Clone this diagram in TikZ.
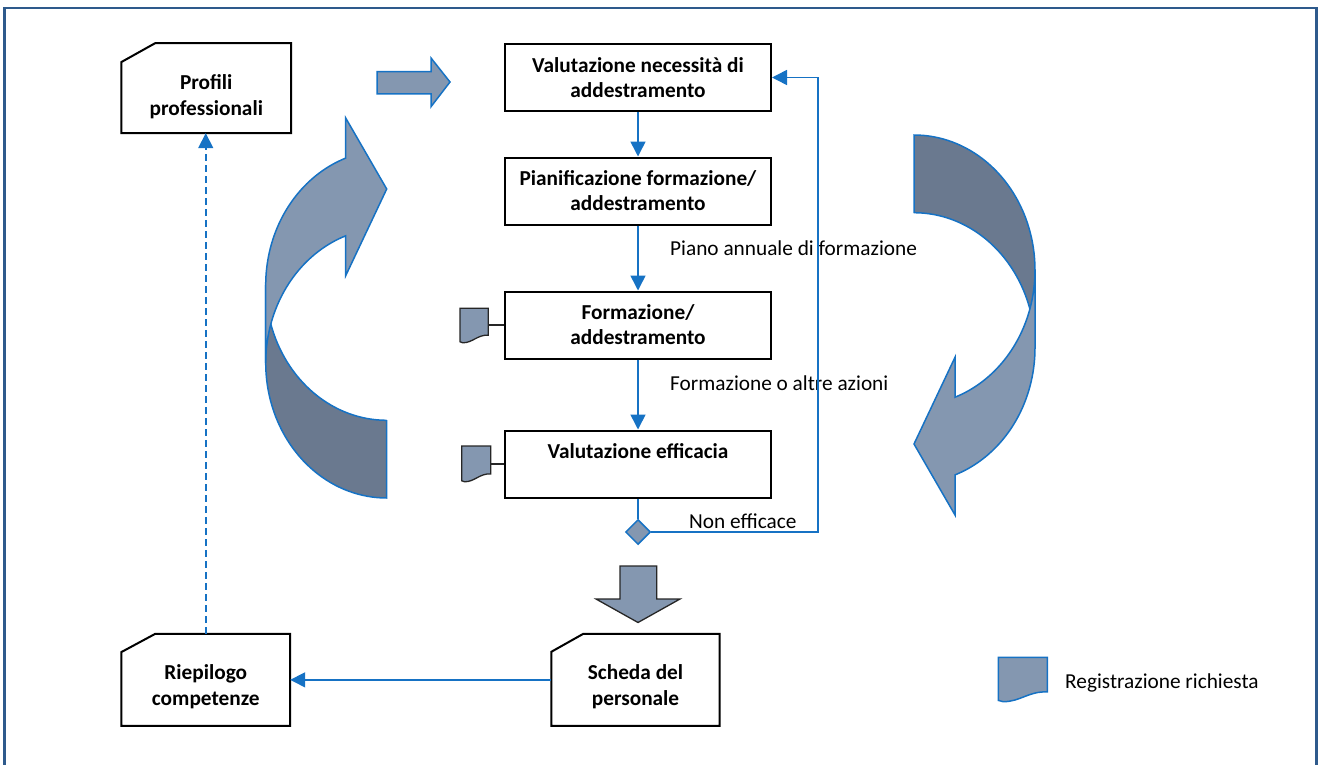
\documentclass[tikz,border=0pt]{standalone}
\usepackage{fontspec}
\setmainfont{Carlito}
\usetikzlibrary{arrows.meta,calc,shapes.geometric}
\definecolor{flowblue}{RGB}{22,114,196}
\definecolor{slatelight}{RGB}{132,151,176}
\definecolor{slatedark}{RGB}{106,121,143}
\definecolor{framecol}{RGB}{46,90,140}
% outline of a "record" document symbol in a unit square (y grows downwards)
\newcommand{\docoutline}{(0,0) -- (1,0) -- (1,0.78) .. controls (0.62,0.76) and (0.45,1.0) .. (0.1,1.0) .. controls (0.04,1.0) .. (0,0.97) -- cycle}
\begin{document}
\begin{tikzpicture}[x=1pt,y=-1pt,
  every node/.style={font=\fontsize{21.3}{25}\selectfont},
  procbox/.style={draw=black, line width=2pt, fill=white, minimum width=266pt,
    minimum height=67pt, align=center, inner sep=0pt,
    font=\fontsize{21.3}{25}\selectfont\bfseries},
  snipframe/.style={inner sep=0pt},
  sniptext/.style={align=center, inner sep=0pt, font=\fontsize{21.3}{26}\selectfont\bfseries},
  snipline/.style={draw=black, line width=2pt, fill=white, line join=miter},
  flow/.style={draw=flowblue, line width=1.6pt, -{Triangle[length=15pt,width=15pt]}},
  plainflow/.style={draw=flowblue, line width=1.6pt},
  docicon/.style={draw=black!85, line width=1.3pt, fill=slatelight},
  legendicon/.style={draw=flowblue, line width=1.5pt, fill=slatelight},
  blockarrow/.style={fill=slatelight, draw=flowblue, line width=1.5pt, line join=miter},
  downarrow/.style={fill=slatelight, draw=black!85, line width=1.3pt, line join=miter},
  cyclelight/.style={fill=slatelight, draw=flowblue, line width=1.5pt, line join=miter},
  cycledark/.style={fill=slatedark, draw=flowblue, line width=1.5pt, line join=miter},
  lbl/.style={anchor=west, inner sep=0pt},
]
\useasboundingbox (0,0) rectangle (1319,765);

% outer frame, open at the bottom
\begin{scope}
  \clip (0,0) rectangle (1319,765);
  \draw[framecol, line width=2.7pt] (4.7,8) rectangle (1316.8,800);
\end{scope}

% curved cycle arrow (left); the right one is the same shape turned by 180 degrees
\newcommand{\cyclearrow}[1]{%
  \begin{scope}[#1]
    \draw[cycledark] (386.7,420)
      -- plot[domain=90:180, samples=40] ({386.7+121*cos(\x)},{285.2+135.1*sin(\x)})
      -- plot[domain=180:90, samples=40] ({386.7+121*cos(\x)},{362.9+135.1*sin(\x)})
      -- cycle;
    \draw[cyclelight] (265.7,285.2)
      -- plot[domain=180:250.2, samples=40] ({386.7+121*cos(\x)},{285.2+135.1*sin(\x)})
      -- (345.7,118) -- (386.7,189) -- (345.7,275.7)
      -- plot[domain=250.2:180, samples=40] ({386.7+121*cos(\x)},{362.9+135.1*sin(\x)})
      -- cycle;
  \end{scope}}
\cyclearrow{}
\cyclearrow{rotate around={180:(650.35,316.5)}}

% block arrows
\draw[blockarrow] (377,71.7) -- (431,71.7) -- (431,58) -- (450,82) -- (431,106.7)
  -- (431,94) -- (377,94) -- cycle;
\draw[downarrow] (620,566) -- (656.7,566) -- (656.7,599) -- (680,599) -- (638,622.5)
  -- (596,599) -- (620,599) -- cycle;

% process steps
\node[procbox] (need)  at (638,77.5) {Valutazione necessità di\\addestramento};
\node[procbox] (plan)  at (638,191)  {Pianificazione formazione/\\addestramento};
\node[procbox] (train) at (638,325)  {Formazione/\\addestramento};
\node[procbox] (eval)  at (638,464)  {Valutazione efficacia\\\mbox{}};
\node[diamond, draw=flowblue, fill=slatelight, line width=1.5pt, minimum size=25pt,
  inner sep=0pt] (dec) at (638,532) {};

% documents with a snipped corner
\node[snipframe, minimum width=169.5pt, minimum height=89.7pt] (prof) at (206.25,88.15) {};
\node[snipframe, minimum width=168.5pt, minimum height=91.7pt] (riep) at (205.75,679.85) {};
\node[snipframe, minimum width=168pt, minimum height=91.7pt] (sched) at (635.5,679.85) {};
\foreach \n/\cx/\cy in {prof/34/19, riep/34/18.3, sched/32/18}{
  \draw[snipline] ($(\n.north west)+(0,\cy)$) -- ($(\n.north west)+(\cx,0)$)
    -- (\n.north east) -- (\n.south east) -- (\n.south west) -- cycle;
}
\node[sniptext] (proft)  at ($(prof.center)+(0,8.5)$)  {Profili\\professionali};
\node[sniptext] (riept)  at ($(riep.center)+(0,7)$)   {Riepilogo\\competenze};
\node[sniptext] (schedt) at ($(sched.center)+(0,7)$)  {Scheda del\\personale};

% record symbols attached to the steps
\draw[docicon, shift={(460,308.3)}, xscale=28.3, yscale=34.5] \docoutline;
\draw[docicon, shift={(461.7,446)}, xscale=29, yscale=35.8] \docoutline;
\coordinate (rec1) at (488.3,325);
\coordinate (rec2) at (490.7,464);
\draw[black!85, line width=1.3pt] (rec1) -- (train.west);
\draw[black!85, line width=1.3pt] (rec2) -- (eval.west);

% flow labels
\node[lbl] (pianolbl) at (670,248)   {Piano annuale di formazione};
\node[lbl] (azionilbl) at (670,383)  {Formazione o altre azioni};
\node[lbl] (nonlbl) at (689,521)     {Non efficace};

% connectors
\draw[flow] (need) -- (plan);
\draw[flow] (plan) -- (train);
\draw[flow] (train) -- (eval);
\draw[plainflow] (eval) -- (dec);
\coordinate (loop) at (818,532);
\draw[flow] (dec.east) -- (loop) |- (need.east);
\draw[flow] (sched.west) -- (riep.east);
\draw[flow, dash pattern=on 7pt off 4pt] (riep.north) -- (riep.north |- prof.south);

% legend
\draw[legendicon, shift={(998.3,657.3)}, xscale=49, yscale=44.4] \docoutline;
\node[lbl] (legendlbl) at (1065,683) {Registrazione richiesta};
\end{tikzpicture}
\end{document}
